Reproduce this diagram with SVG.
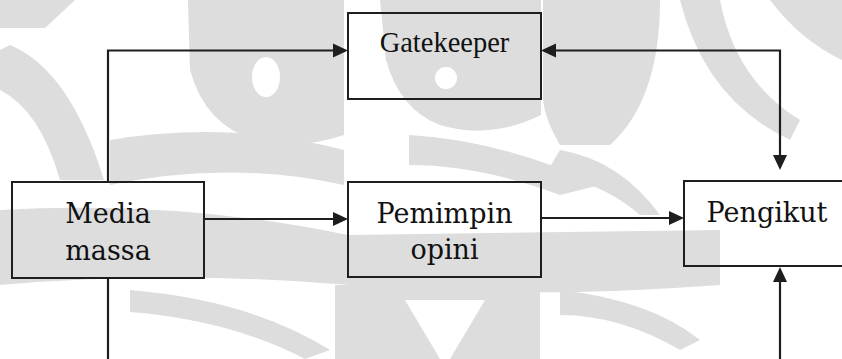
<svg xmlns="http://www.w3.org/2000/svg" width="842" height="359" viewBox="0 0 842 359">
<style>
.box{fill:none;stroke:#1e1e1e;stroke-width:2}
.ln{fill:none;stroke:#1e1e1e;stroke-width:2.2}
.t1{font-family:"DejaVu Serif","Liberation Serif",serif;font-size:27px;fill:#111;text-anchor:middle}
.t2{font-family:"Liberation Serif","Times New Roman",serif;font-size:28.5px;fill:#111;text-anchor:middle}
.wm{fill:#dddddd}
.wh{fill:#ffffff}
</style>
<defs>
<marker id="ah" markerUnits="userSpaceOnUse" markerWidth="15" markerHeight="15" refX="0" refY="7.5" orient="auto-start-reverse" viewBox="0 0 15 15">
<path d="M0,0.5 L15,7.5 L0,14.5 z" fill="#1e1e1e"/>
</marker>
</defs>
<rect width="842" height="359" fill="#ffffff"/>
<g id="watermark">
<path class="wm" d="M0,0 H75 L45,28 H0 Z"/>
<path class="wm" d="M10,45 Q70,70 104,180 L60,180 Q40,110 0,90 V50 Z"/>
<path class="wm" d="M188,0 H344 V135 Q300,150 255,140 Q205,125 190,70 Z"/>
<ellipse class="wh" cx="266" cy="77" rx="14" ry="20"/>
<path class="wm" d="M380,0 H541 V115 Q490,140 440,125 Q400,110 386,60 Z"/>
<circle class="wh" cx="446" cy="78" r="11"/>
<path class="wm" d="M543,0 H660 Q660,100 610,145 L560,145 Q545,120 543,100 Z"/>
<path class="wm" d="M680,0 H720 Q735,80 800,120 L790,140 Q705,100 680,0 Z"/>
<path class="wm" d="M770,0 H842 V60 Q800,40 770,0 Z"/>
<path class="wm" d="M110,140 Q230,120 344,150 V185 Q230,160 110,185 Z"/>
<path class="wm" d="M409,135 Q500,140 600,185 L560,195 Q480,165 409,165 Z"/>
<path class="wm" d="M560,150 Q620,160 660,215 L640,215 Q600,180 545,175 Z"/>
<path class="wm" d="M0,210 Q180,200 348,235 L720,230 V285 Q520,300 350,285 Q170,270 0,285 Z"/>
<path class="wm" d="M130,290 Q250,300 330,350 L305,359 Q230,320 130,312 Z"/>
<path class="wm" d="M335,285 H540 V359 H335 Z"/>
<path class="wh" d="M405,300 L485,300 L450,359 L440,359 Z"/>
<path class="wm" d="M560,290 Q650,300 700,340 L680,350 Q620,315 560,315 Z"/>
</g>
<g id="connectors">
<path class="ln" d="M108,182 V50.5 H333" marker-end="url(#ah)"/>
<path class="ln" d="M556,50.5 H780 V155" marker-start="url(#ah)" marker-end="url(#ah)"/>
<path class="ln" d="M204,219 H333" marker-end="url(#ah)"/>
<path class="ln" d="M541,218 H669" marker-end="url(#ah)"/>
<path class="ln" d="M108,278 V359"/>
<path class="ln" d="M780,359 V282" marker-end="url(#ah)"/>
</g>
<g id="gatekeeper">
<rect class="box" x="348" y="13" width="193" height="86"/>
<text class="t2" x="444.5" y="52">Gatekeeper</text>
</g>
<g id="media-massa">
<rect class="box" x="12" y="182" width="192" height="96"/>
<text class="t1" x="108" y="223">Media</text>
<text class="t1" x="108" y="260">massa</text>
</g>
<g id="pemimpin-opini">
<rect class="box" x="348" y="182" width="193" height="95"/>
<text class="t1" x="444.5" y="222.5">Pemimpin</text>
<text class="t1" x="444.5" y="259">opini</text>
</g>
<g id="pengikut">
<rect class="box" x="684" y="181" width="170" height="85"/>
<text class="t1" x="767" y="222">Pengikut</text>
</g>
</svg>
